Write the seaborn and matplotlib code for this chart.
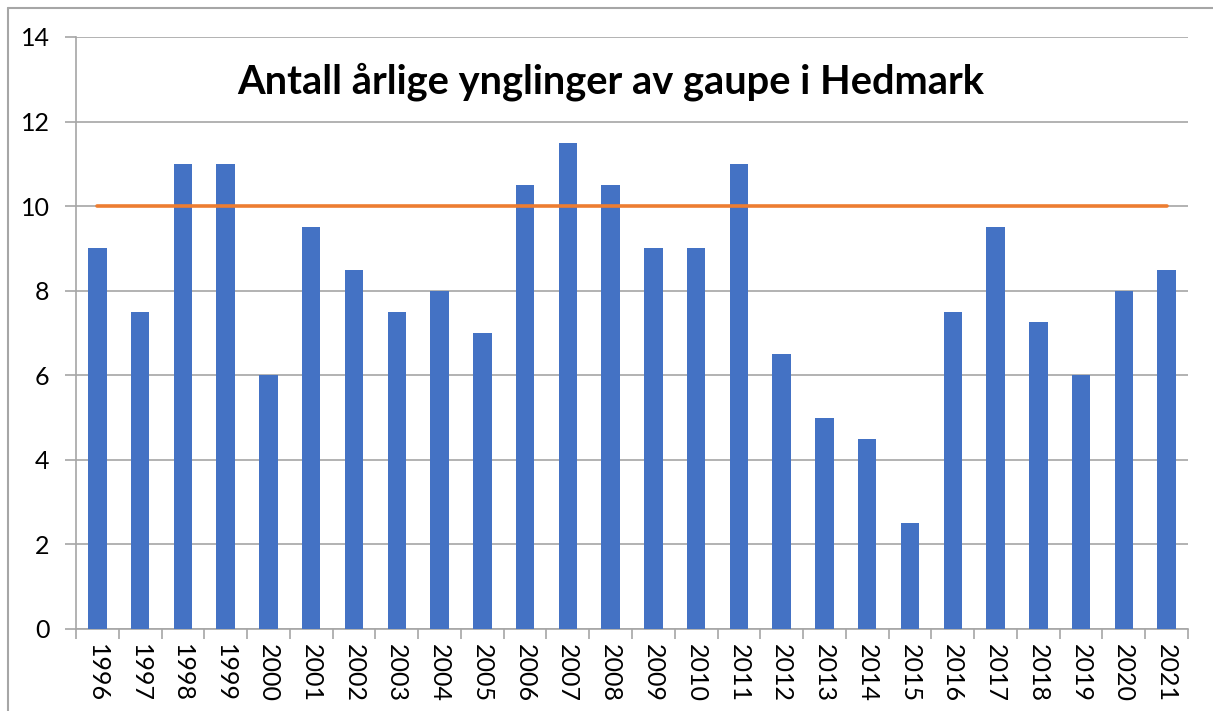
import matplotlib
matplotlib.use("Agg")
import matplotlib.pyplot as plt
import seaborn as sns
import pandas as pd
from matplotlib.lines import Line2D

years = [str(y) for y in range(1996, 2022)]
values = [9, 7.5, 11, 11, 6, 9.5, 8.5, 7.5, 8, 7, 10.5, 11.5, 10.5, 9, 9, 11,
          6.5, 5, 4.5, 2.5, 7.5, 9.5, 7.25, 6, 8, 8.5]
target = [10] * len(years)
title = "Antall årlige ynglinger av gaupe i Hedmark"

sns.set_theme(style="white")
plt.rcParams['font.family'] = ['Lato', 'DejaVu Sans']

W, H = 1213, 711
fig = plt.figure(figsize=(W / 100, H / 100), dpi=100)
ax = fig.add_axes([76 / W, (H - 629) / H, (1188 - 76) / W, (629 - 37) / H])

df = pd.DataFrame({"year": years, "value": values, "target": target})
sns.barplot(data=df, x="year", y="value", color="#4472C4", width=0.43,
            saturation=1, ax=ax, zorder=3, edgecolor="none")
sns.lineplot(data=df, x="year", y="target", color="#ED7D31", linewidth=2.6,
             ax=ax, zorder=4)

ax.set_ylim(0, 14)
ax.set_xlim(-0.5, len(years) - 0.5)
ax.set_yticks(range(0, 15, 2))
ax.yaxis.grid(True, color="#a6a6a6", linewidth=1.2, zorder=0)
ax.set_axisbelow(True)
ax.set_xlabel("")
ax.set_ylabel("")

ax.set_xticks(range(len(years)))
ax.set_xticklabels(years, rotation=-90, fontsize=18, color="black")
ax.set_xticks([i - 0.5 for i in range(len(years) + 1)], minor=True)
ax.tick_params(axis="x", which="major", length=0, pad=11)
ax.tick_params(axis="x", which="minor", length=7, width=1.2, color="#a6a6a6", bottom=True)
ax.tick_params(axis="y", which="major", length=8, width=1.2, color="#a6a6a6",
               labelsize=18, labelcolor="black", left=True, pad=11)

for s in ["top", "right"]:
    ax.spines[s].set_visible(False)
for s in ["left", "bottom"]:
    ax.spines[s].set_visible(True)
    ax.spines[s].set_color("#a6a6a6")
    ax.spines[s].set_linewidth(1.2)

ax.text(0.481, 0.925, title, transform=ax.transAxes, ha="center", va="center",
        fontsize=28.7, fontweight="bold", color="black")

fig.add_artist(Line2D([7.5 / W, 7.5 / W], [0, 1 - 7.5 / H], transform=fig.transFigure,
                      color="#a6a6a6", linewidth=1.5))
fig.add_artist(Line2D([7.5 / W, 1], [1 - 7.5 / H, 1 - 7.5 / H], transform=fig.transFigure,
                      color="#a6a6a6", linewidth=1.5))

fig.savefig("out.png", dpi=100)
